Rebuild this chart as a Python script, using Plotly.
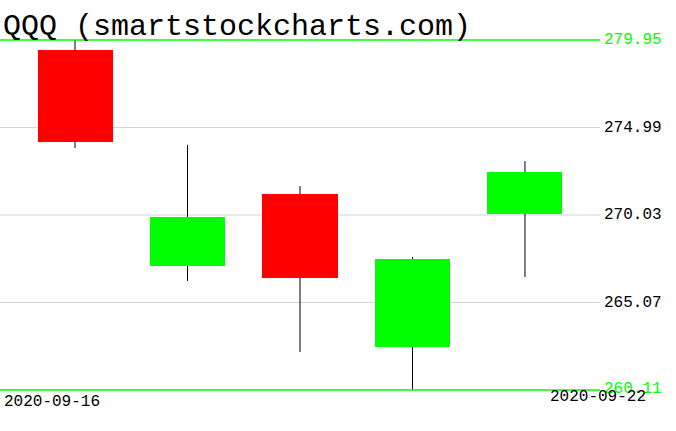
import plotly.graph_objects as go

dates = ["2020-09-16", "2020-09-17", "2020-09-18", "2020-09-21", "2020-09-22"]
opens = [279.38, 267.14, 271.22, 262.55, 270.09]
highs = [279.95, 274.00, 271.67, 267.65, 273.09]
lows = [273.83, 266.29, 262.26, 260.11, 266.51]
closes = [274.19, 269.92, 266.46, 267.53, 272.47]
tick_vals = [279.95, 274.99, 270.03, 265.07, 260.11]
tick_labels = ["279.95", "274.99", "270.03", "265.07", "260.11"]
title_text = "QQQ (smartstockcharts.com)"

RED = "#ff0000"
GREEN = "#00ff00"
FONT = "Liberation Mono"

idx = list(range(len(dates)))
body_lo = [min(o, c) for o, c in zip(opens, closes)]
body_hi = [max(o, c) for o, c in zip(opens, closes)]
colors = [GREEN if c >= o else RED for o, c in zip(opens, closes)]

fig = go.Figure()

# wick segments (upper and lower, so the body stays solid)
wx, wy = [], []
for i in idx:
    wx += [i, i, None, i, i, None]
    wy += [highs[i], body_hi[i], None, body_lo[i], lows[i], None]
fig.add_trace(go.Scatter(x=wx, y=wy, mode="lines",
                         line=dict(color="black", width=1),
                         hoverinfo="skip", showlegend=False, cliponaxis=False))

fig.add_trace(go.Bar(x=idx, y=[h - l for h, l in zip(body_hi, body_lo)],
                     base=body_lo, width=0.667,
                     marker=dict(color=colors, line=dict(width=0)),
                     showlegend=False))

shapes = []
y_max, y_min = max(tick_vals), min(tick_vals)
for v in tick_vals:
    if v == y_max or v == y_min:
        # range edges: drawn in paper coords so they are not clipped
        pv = 1 if v == y_max else 0
        shapes.append(dict(type="line", xref="paper", x0=0, x1=1,
                           yref="paper", y0=pv, y1=pv, layer="above",
                           line=dict(color=GREEN, width=1.5)))
    else:
        shapes.append(dict(type="line", xref="paper", x0=0, x1=1, yref="y",
                           y0=v, y1=v, layer="below",
                           line=dict(color="#d3d3d3", width=1)))

annotations = []
for v, t in zip(tick_vals, tick_labels):
    edge = v in (y_max, y_min)
    annotations.append(dict(x=1, xref="paper", y=v, yref="y", text=t,
                            showarrow=False, xanchor="left", yanchor="middle",
                            xshift=2, yshift=1 if v == y_min else 0,
                            font=dict(family=FONT, size=16,
                                      color=GREEN if edge else "black")))

annotations.append(dict(x=0, xref="paper", y=0, yref="paper", text=dates[0],
                        showarrow=False, xanchor="left", yanchor="top",
                        xshift=2, yshift=-1,
                        font=dict(family=FONT, size=16, color="black")))
annotations.append(dict(x=1, xref="paper", y=0, yref="paper", text=dates[-1],
                        showarrow=False, xanchor="right", yanchor="top",
                        xshift=48, yshift=4,
                        font=dict(family=FONT, size=16, color="black")))
annotations.append(dict(x=0, xref="paper", y=1, yref="paper", text=title_text,
                        showarrow=False, xanchor="left", yanchor="bottom",
                        xshift=1, yshift=-6,
                        font=dict(family=FONT, size=30, color="black")))

fig.update_layout(
    width=676, height=431,
    margin=dict(l=0, r=76, t=40, b=41, autoexpand=False),
    paper_bgcolor="white", plot_bgcolor="white",
    bargap=0,
    xaxis=dict(range=[-0.667, 4.667], showgrid=False, zeroline=False,
               showticklabels=False, ticks=""),
    yaxis=dict(range=[y_min, y_max], showgrid=False,
               zeroline=False, showticklabels=False, ticks=""),
    shapes=shapes, annotations=annotations,
)

fig.write_html("out.html", config={"displayModeBar": False},
               post_script="document.body.style.margin='0';"
                           "document.body.style.padding='0';")
